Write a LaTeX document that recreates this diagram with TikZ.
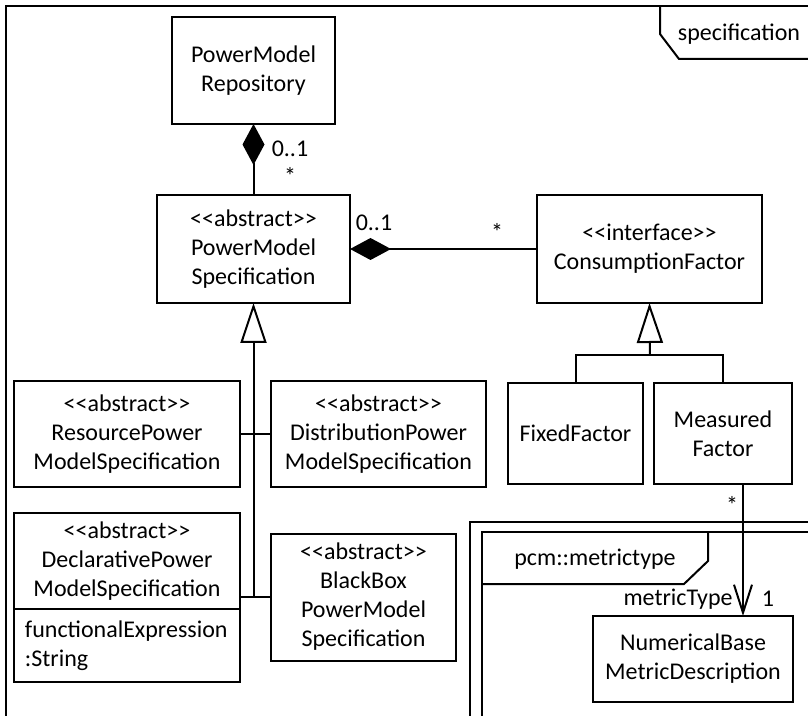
\documentclass[tikz,border=0pt]{standalone}
\usepackage{fontspec}
\setmainfont{Carlito}[Ligatures=TeXOff]
\usetikzlibrary{arrows.meta,calc}

\tikzset{
  cls/.style={draw, line width=1pt, align=center, inner sep=0pt, outer sep=0pt,
    font=\fontsize{12}{14.5}\selectfont},
  lbl/.style={inner sep=0pt, font=\fontsize{12}{14.5}\selectfont},
  wire/.style={line width=1pt},
  compose/.style={wire, -{Diamond[length=20.5pt, width=11pt]}},
  inherit/.style={wire, -{Triangle[open, length=20pt, width=13pt, fill=white]}},
  navigate/.style={wire, -{Straight Barb[length=14pt, width=9pt, line width=1pt]}},
  frameline/.style={line width=1pt}
}

\begin{document}
\begin{tikzpicture}[x=0.5pt, y=-0.5pt]
  \useasboundingbox (0,0) rectangle (808,716);
  \clip (0,0) rectangle (808,716);

  % package "specification"
  \draw[frameline] (6,730) -- (6,6) -- (820,6);
  \draw[frameline] (660,6) -- (660,34) -- (679,59) -- (820,59);
  \node[lbl] (spec) at (739,34) {specification};

  % package "pcm::metrictype"
  \draw[frameline] (470,730) -- (470,522) -- (820,522);
  \draw[frameline] (482,730) -- (482,532) -- (820,532);
  \draw[frameline] (708,532) -- (708,561) -- (684,584) -- (482,584);
  \node[lbl] (pcm) at (595,559) {pcm::metrictype};

  % classes
  \node[cls, minimum width=81.5pt, minimum height=53.5pt] (repo) at (253.5,70.5)
    {PowerModel\\Repository};
  \node[cls, minimum width=96.5pt, minimum height=54pt] (pms) at (253.5,249)
    {<<abstract>>\\PowerModel\\Specification};
  \node[cls, minimum width=112.5pt, minimum height=54pt] (cf) at (649.5,249)
    {<<interface>>\\ConsumptionFactor};
  \node[cls, minimum width=113pt, minimum height=53pt] (res) at (127,434)
    {<<abstract>>\\ResourcePower\\ModelSpecification};
  \node[cls, minimum width=107.5pt, minimum height=53pt] (dist) at (378.5,434)
    {<<abstract>>\\DistributionPower\\ModelSpecification};
  \node[cls, minimum width=113pt, minimum height=48pt] (decl) at (127,561)
    {<<abstract>>\\DeclarativePower\\ModelSpecification};
  \node[cls, anchor=north west, minimum width=113pt, minimum height=36.5pt,
        text width=102pt, inner xsep=5.5pt, align=left] (attr) at (decl.south west)
    {functionalExpression\\:String};
  \node[cls, minimum width=92.5pt, minimum height=63.5pt] (bb) at (363.5,597)
    {<<abstract>>\\BlackBox\\PowerModel\\Specification};
  \node[cls, minimum width=67.5pt, minimum height=50.5pt] (ff) at (575.5,433.5)
    {FixedFactor};
  \node[cls, minimum width=69pt, minimum height=50.5pt] (mf) at (723,433.5)
    {Measured\\Factor};
  \node[cls, minimum width=100pt, minimum height=43pt] (nb) at (693,659)
    {NumericalBase\\MetricDescription};

  % compositions
  \draw[compose] (pms.north) -- (repo.south);
  \node[lbl] (m1) at (290,149) {0..1};
  \node[lbl] (m2) at (290,176) {*};
  \draw[compose] (cf.west) -- (pms.east);
  \node[lbl] (m3) at (374,223) {0..1};
  \node[lbl] (m4) at (497,232) {*};

  % generalization of PowerModelSpecification
  \coordinate (ja) at (pms.south |- res.east);
  \coordinate (jb) at (pms.south |- bb.west);
  \draw[inherit] (jb) -- (pms.south);
  \draw[wire] (res.east) -- (dist.west);
  \draw[wire] (bb.west) -- (bb.west -| decl.east);

  % generalization of ConsumptionFactor
  \coordinate (jc) at (650,355);
  \draw[inherit] (jc) -- (cf.south);
  \draw[wire] (ff.north) |- (jc) -| (mf.north);

  % navigable association to the metric description
  \coordinate (mfa) at ($(mf.south)+(20,0)$);
  \draw[navigate] (mfa) -- (mfa |- nb.north);
  \node[lbl] (m5) at (732,505) {*};
  \node[lbl, anchor=east] (role) at (733,599) {metricType};
  \node[lbl] (m6) at (768,599) {1};
\end{tikzpicture}
\end{document}
